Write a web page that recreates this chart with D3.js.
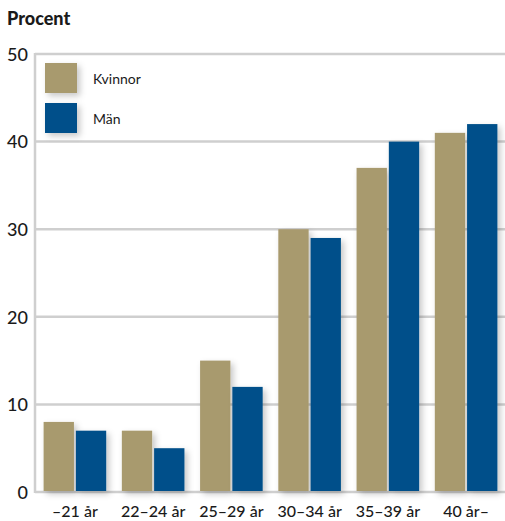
<!DOCTYPE html>
<html><head><meta charset="utf-8">
<script src="https://cdn.jsdelivr.net/npm/d3@7"></script>
<style>body{margin:0;background:#fff}svg{display:block}</style>
</head><body>
<script>
const categories = ["\u201321 år","22\u201324 år","25\u201329 år","30\u201334 år","35\u201339 år","40 år\u2013"];
const kvinnor = [8,7,15,30,37,41];
const man = [7,5,12,29,40,42];
const seriesNames = ["Kvinnor","Män"];
const yTicks = [0,10,20,30,40,50];
const colors = ["#A89A6E","#00508A"];

(function(){
const W=505,H=521;
const svg=d3.select("body").append("svg").attr("width",W).attr("height",H);
const defs=svg.append("defs");
const f=defs.append("filter").attr("id","sh").attr("x","-20%").attr("y","-20%").attr("width","160%").attr("height","160%");
f.append("feDropShadow").attr("dx",3).attr("dy",3).attr("stdDeviation",3).attr("flood-color","#000").attr("flood-opacity",0.22);

const mL=35, mR=506, mT=54, mB=492;
const y=d3.scaleLinear().domain([0,50]).range([mB,mT]);
const x0=d3.scaleBand().domain(categories).range([mL,mR]).paddingInner(0.2).paddingOuter(0.11);
const x1=d3.scaleBand().domain(seriesNames).range([0,x0.bandwidth()]).paddingInner(0.06);
const font="Lato, 'Open Sans', sans-serif";

svg.append("text").attr("x",7).attr("y",25).text("Procent").attr("font-family",font).attr("font-weight",900).attr("font-size",18).attr("fill","#1a1a1a");

svg.append("g").selectAll("line").data(yTicks).join("line")
 .attr("x1",mL).attr("x2",W).attr("y1",d=>y(d)).attr("y2",d=>y(d))
 .attr("stroke","#cfcfcf").attr("stroke-width",2.5);
svg.append("line").attr("x1",mL).attr("x2",mL).attr("y1",mT-1).attr("y2",mB+1).attr("stroke","#cfcfcf").attr("stroke-width",2.5);

const ya=d3.axisLeft(y).tickValues(yTicks).tickSize(0).tickPadding(0);
const gy=svg.append("g").attr("transform",`translate(${mL-7},0)`).call(ya);
gy.select(".domain").remove();
gy.selectAll("text").attr("font-family",font).attr("font-size",18).attr("font-weight",500).attr("fill","#1a1a1a").attr("dy","0.35em");

const data=categories.map((c,i)=>({c,vals:[kvinnor[i],man[i]]}));
const groups=svg.append("g").selectAll("g").data(data).join("g").attr("transform",d=>`translate(${x0(d.c)},0)`);
groups.selectAll("rect").data(d=>d.vals.map((v,j)=>({v,s:seriesNames[j],j}))).join("rect")
 .attr("x",d=>x1(d.s)).attr("width",x1.bandwidth())
 .attr("y",d=>y(d.v)).attr("height",d=>y(0)-y(d.v)-1)
 .attr("fill",d=>colors[d.j]).attr("filter","url(#sh)");

const xa=d3.axisBottom(x0).tickSize(0).tickPadding(0);
const gx=svg.append("g").attr("transform",`translate(0,${mB+25})`).call(xa);
gx.select(".domain").remove();
gx.selectAll("text").attr("font-family",font).attr("font-size",16).attr("font-weight",500).attr("fill","#1a1a1a").attr("dy",0);

const lg=svg.append("g");
seriesNames.forEach((s,i)=>{
  lg.append("rect").attr("x",45).attr("y",63+i*40).attr("width",32).attr("height",30).attr("fill",colors[i]).attr("filter","url(#sh)");
  lg.append("text").attr("x",93).attr("y",79+i*40).attr("dy","0.35em").text(s).attr("font-family",font).attr("font-size",14).attr("fill","#1a1a1a");
});
})();
</script>
</body></html>
